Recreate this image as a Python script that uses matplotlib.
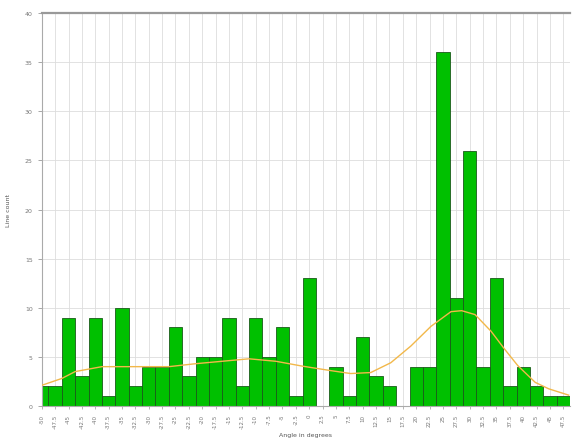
import numpy as np
import matplotlib
matplotlib.use("Agg")
import matplotlib.pyplot as plt

# histogram of line angles, one bar per 2.5 degree bin
angles = [-50 + 2.5 * i for i in range(40)]
counts = [2, 2, 9, 3, 9, 1, 10, 2, 4, 4,
          8, 3, 5, 5, 9, 2, 9, 5, 8, 1,
          13, 0, 4, 1, 7, 3, 2, 0, 4, 4,
          36, 11, 26, 4, 13, 2, 4, 2, 1, 1]

# smoothed density curve (bin index, count)
curve_x = [0, 1.5, 2.5, 4.5, 7.5, 9.5, 11.5, 13.5, 15.5, 17.5, 19.5,
           21.6, 23.1, 24.6, 26.1, 27.6, 29.1, 30.6, 31.4, 32.4, 33.6,
           34.6, 35.6, 36.9, 37.9, 39.4]
curve_y = [2.1, 2.8, 3.5, 4.0, 4.0, 4.0, 4.3, 4.55, 4.8, 4.55, 4.05,
           3.6, 3.3, 3.4, 4.4, 6.1, 8.1, 9.6, 9.7, 9.3, 7.6,
           5.8, 4.1, 2.4, 1.75, 1.1]

fig = plt.figure(figsize=(5.72, 4.39), dpi=100)
ax = fig.add_axes([0.073, 0.073, 0.9235, 0.895])

idx = np.arange(len(counts))
ax.bar(idx, counts, width=1.0, color="#00c000", edgecolor="#1a5a1a",
       linewidth=0.6, zorder=2)
ax.plot(curve_x, curve_y, color="#f2b84a", linewidth=1.0, zorder=3)

ax.set_xlim(0, 39.5)
ax.set_ylim(0, 40)
ax.set_xticks(idx)
ax.set_xticklabels([("%g" % a) for a in angles], rotation=90,
                   fontsize=4, color="#777777")
ax.set_yticks(np.arange(0, 41, 5))
ax.tick_params(axis="y", labelsize=4.5, labelcolor="#777777",
               color="#999999", length=3, width=0.6)
ax.tick_params(axis="x", color="#999999", length=2, width=0.5)

ax.grid(True, color="#dddddd", linewidth=0.6, zorder=0)
ax.set_axisbelow(True)

for s in ["right"]:
    ax.spines[s].set_visible(False)
ax.spines["top"].set_color("#999999")
ax.spines["top"].set_linewidth(1.6)
ax.spines["left"].set_color("#aaaaaa")
ax.spines["bottom"].set_color("#aaaaaa")

ax.set_xlabel("Angle in degrees", fontsize=4.5, color="#555555", labelpad=3)
ax.set_ylabel("Line count", fontsize=4.5, color="#555555", labelpad=10)

fig.savefig("out.png", dpi=100)
